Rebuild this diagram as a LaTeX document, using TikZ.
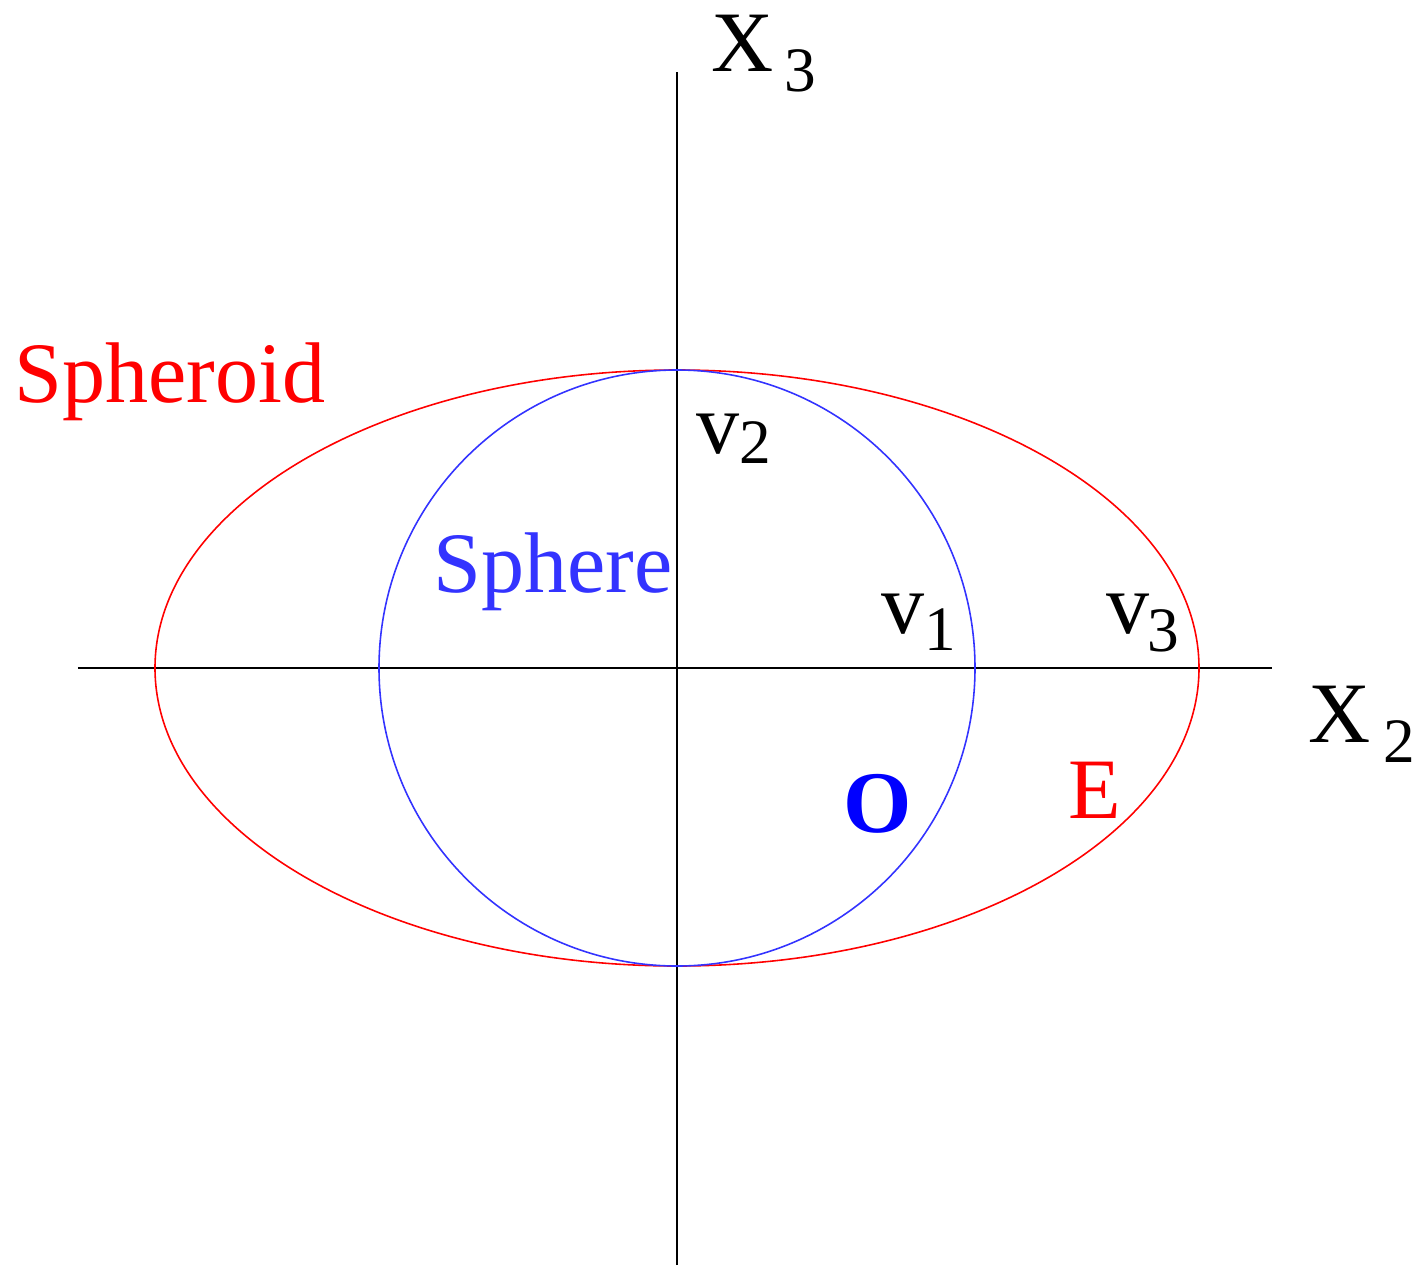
\documentclass[tikz,border=0pt]{standalone}
\usepackage{fontspec}
\setmainfont{Liberation Serif}
\usetikzlibrary{positioning}
\definecolor{spheroidred}{RGB}{255,0,0}
\definecolor{sphereblue}{RGB}{51,51,255}
\definecolor{pureblue}{RGB}{0,0,255}
\newcommand{\lowsub}[2]{\raisebox{-#1}{\fontsize{18}{18}\selectfont #2}}

\begin{document}
\begin{tikzpicture}[
 axis/.style={line width=0.6pt, black},
 curve/.style={line width=0.45pt},
 lbl/.style={anchor=base west, inner sep=0pt, font=\fontsize{24.5}{25}\selectfont}
]
\useasboundingbox (-6.77,-5.99) rectangle (7.50,6.68);

% Axes
\coordinate (west) at (-5.99,0);
\coordinate (east) at (5.95,0);
\coordinate (south) at (0,-5.97);
\coordinate (north) at (0,5.96);
\draw[axis] (west) -- (east);
\draw[axis] (south) -- (north);

% Spheroid and sphere
\draw[curve, spheroidred] (0,0) ellipse [x radius=5.22, y radius=2.98];
\draw[curve, sphereblue] (0,0) circle [radius=2.98];

% Axis labels
\node[lbl] (x3) at (0.34,5.96) {X\kern0.11cm\lowsub{0.2cm}{3}};
\node[lbl] (x2) at (6.31,-0.74) {X\kern0.13cm\lowsub{0.2cm}{2}};

% Vertex labels
\node[lbl] (v2) at (0.19,2.15) {v\lowsub{0.1cm}{2}};
\node[lbl] (v1) at (2.04,0.35) {v\lowsub{0.17cm}{1}};
\node[lbl] (v3) at (4.29,0.35) {v\kern-0.02cm\lowsub{0.18cm}{3}};

% Names
\node[lbl, spheroidred] (spheroid) at (-6.63,2.66) {Spheroid};
\node[lbl, sphereblue] (sphere) at (-2.44,0.76) {Sphere};
\node[lbl, pureblue, font=\fontsize{25}{25}\selectfont\bfseries] (o) at (1.66,-1.64) {O};
\node[lbl, spheroidred] (e) at (3.91,-1.50) {E};
\end{tikzpicture}
\end{document}
